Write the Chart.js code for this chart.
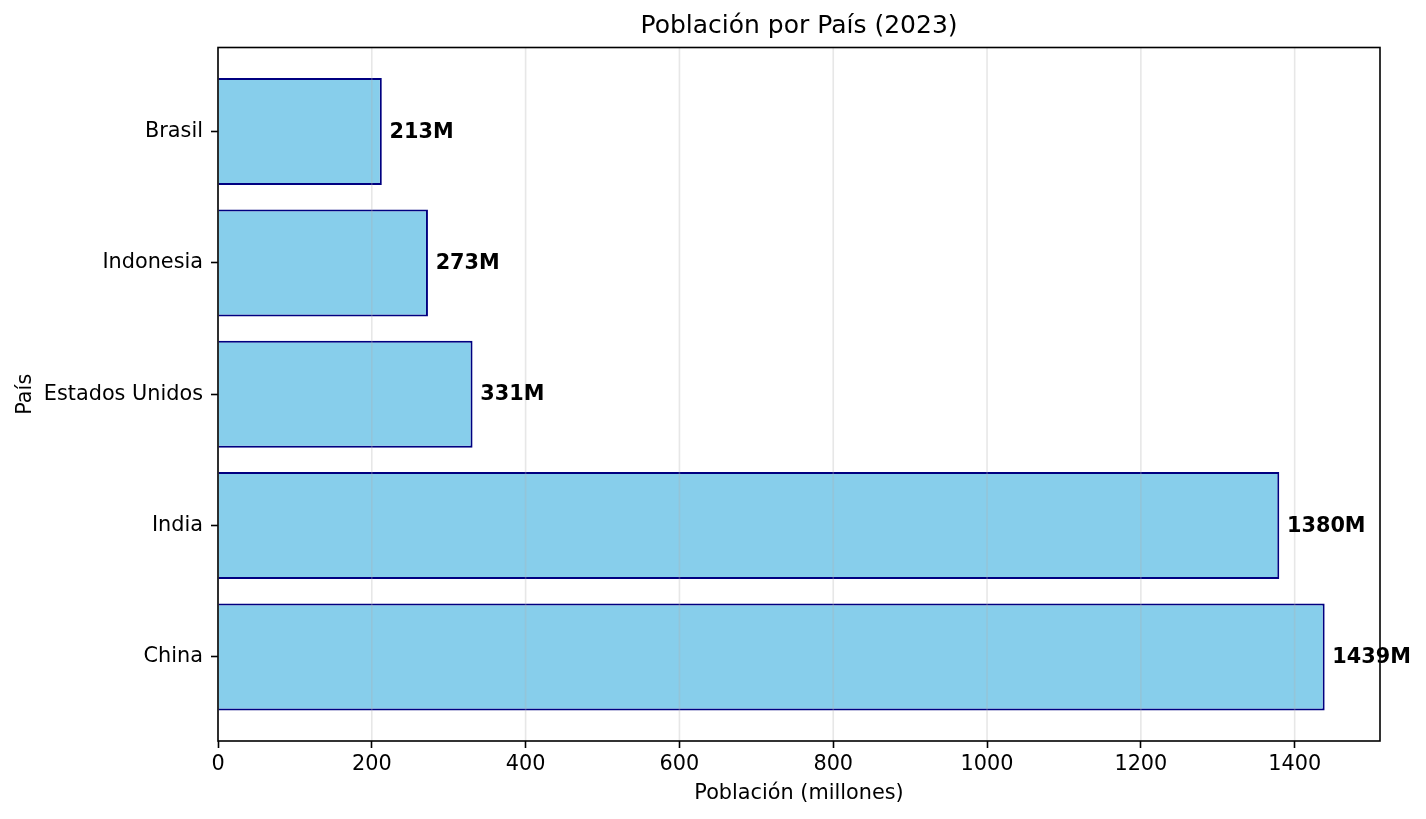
<!DOCTYPE html>
<html><head><meta charset="utf-8">
<script src="https://cdn.jsdelivr.net/npm/chart.js@4/dist/chart.umd.min.js"></script>
<style>html,body{margin:0;padding:0;background:#fff;}</style>
</head><body>
<canvas id="c" width="1426" height="819" style="display:block;width:1426px;height:819px"></canvas>
<script>
// Data (index 0 = bottom of the chart)
const countries = ['China', 'India', 'Estados Unidos', 'Indonesia', 'Brasil'];
const population = [1439, 1380, 331, 273, 213];
const valueLabels = ['1439M', '1380M', '331M', '273M', '213M'];
const xTickValues = [0, 200, 400, 600, 800, 1000, 1200, 1400];
const chartTitle = 'Población por País (2023)';
const xTitle = 'Población (millones)';
const yTitle = 'País';

const FONT = "'DejaVu Sans', sans-serif";
const BASE = 20.8;
Chart.defaults.font.family = FONT;
Chart.defaults.font.size = BASE;
Chart.defaults.color = '#000';

const overlay = {
  id: 'overlay',
  afterDatasetsDraw(chart) {
    const {ctx, chartArea: a, scales: {x, y}} = chart;
    ctx.save();
    // grid lines (drawn over bars like matplotlib)
    ctx.strokeStyle = 'rgba(176,176,176,0.3)';
    ctx.lineWidth = 1.6;
    xTickValues.forEach(v => {
      const px = x.getPixelForValue(v);
      ctx.beginPath(); ctx.moveTo(px, a.top); ctx.lineTo(px, a.bottom); ctx.stroke();
    });
    // frame
    ctx.strokeStyle = '#000';
    ctx.lineWidth = 1.6;
    ctx.strokeRect(a.left, a.top, a.right - a.left, a.bottom - a.top);
    // value labels
    ctx.fillStyle = '#000';
    ctx.font = 'bold ' + BASE + 'px ' + FONT;
    ctx.textAlign = 'left';
    ctx.textBaseline = 'middle';
    population.forEach((v, i) => {
      ctx.fillText(valueLabels[i], x.getPixelForValue(v + 10), y.getPixelForValue(i) + 0.8);
    });
    // title centred over the plot area
    ctx.font = '25px ' + FONT;
    ctx.textAlign = 'center';
    ctx.textBaseline = 'middle';
    ctx.fillText(chartTitle, (a.left + a.right) / 2, 26.4);
    ctx.restore();
  }
};

new Chart(document.getElementById('c'), {
  type: 'bar',
  data: {
    datasets: [{
      data: population.map((v, i) => ({x: v, y: i})),
      backgroundColor: '#87CEEB',
      borderColor: '#000080',
      borderWidth: 2,
      borderSkipped: 'start',
      barPercentage: 0.815,
      categoryPercentage: 1.0
    }]
  },
  options: {
    indexAxis: 'y',
    responsive: false,
    animation: false,
    devicePixelRatio: 1,
    layout: {padding: {left: 0, right: 46, top: 47.5, bottom: 0}},
    plugins: {
      legend: {display: false},
      tooltip: {enabled: false},
      title: {display: false}
    },
    scales: {
      x: {
        type: 'linear', position: 'bottom',
        min: 0, max: 1510.95,
        afterBuildTicks: s => { s.ticks = xTickValues.map(v => ({value: v})); },
        afterFit: s => { s.height = 78; },
        ticks: {color: '#000', padding: 4, maxRotation: 0, autoSkip: false, includeBounds: false,
                callback: v => String(v)},
        grid: {drawOnChartArea: false, drawTicks: true, tickLength: 7, tickColor: '#000', tickWidth: 1.6},
        border: {display: false},
        title: {display: true, text: xTitle, color: '#000', font: {size: BASE, lineHeight: 1.2},
                padding: {top: 0, bottom: 13}}
      },
      y: {
        type: 'linear', position: 'left',
        min: -0.64, max: 4.64, offset: false,
        afterBuildTicks: s => { s.ticks = countries.map((c, i) => ({value: i})); },
        afterFit: s => { s.width = 218; },
        ticks: {color: '#000', padding: 8, autoSkip: false, callback: v => countries[v]},
        grid: {offset: false, drawOnChartArea: false, drawTicks: true, tickLength: 7, tickColor: '#000', tickWidth: 1.6},
        border: {display: false},
        title: {display: true, text: yTitle, color: '#000', font: {size: BASE, lineHeight: 1.2},
                padding: {top: 13, bottom: 0}}
      }
    }
  },
  plugins: [overlay]
});
</script>
</body></html>
